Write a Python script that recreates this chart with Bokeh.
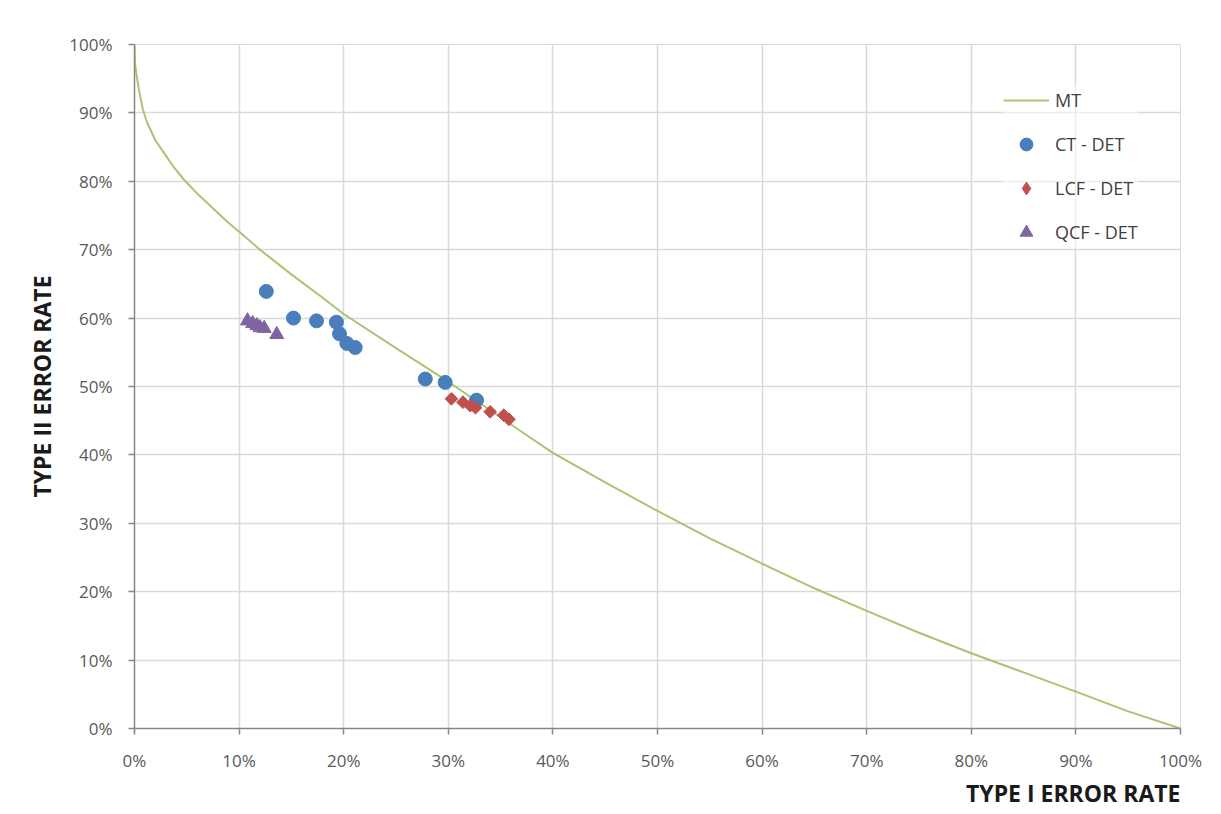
from bokeh.plotting import figure
from bokeh.models import Range1d, NumeralTickFormatter, FixedTicker, Legend, LegendItem, Title
from bokeh.embed import file_html
from bokeh.resources import INLINE

# MT curve (Type I error rate, Type II error rate)
mt_x = [0.0, 0.0005, 0.002, 0.0041, 0.008, 0.012, 0.02, 0.028, 0.037, 0.047, 0.06,
        0.076, 0.09, 0.101, 0.12, 0.149, 0.178, 0.20, 0.25, 0.30, 0.35, 0.369,
        0.40, 0.45, 0.50, 0.55, 0.60, 0.65, 0.70, 0.75, 0.80, 0.85, 0.90, 0.95, 1.0]
mt_y = [1.0, 0.972, 0.955, 0.935, 0.905, 0.886, 0.860, 0.842, 0.822, 0.803, 0.782,
        0.759, 0.739, 0.725, 0.700, 0.665, 0.632, 0.606, 0.556, 0.507, 0.455, 0.435,
        0.403, 0.360, 0.318, 0.278, 0.241, 0.205, 0.172, 0.140, 0.110, 0.082, 0.054, 0.025, 0.0]

# CT - DET
ct_x = [0.126, 0.152, 0.174, 0.193, 0.196, 0.203, 0.211, 0.278, 0.297, 0.327]
ct_y = [0.639, 0.600, 0.596, 0.594, 0.577, 0.563, 0.557, 0.511, 0.506, 0.480]

# LCF - DET
lcf_x = [0.303, 0.314, 0.321, 0.326, 0.340, 0.353, 0.358]
lcf_y = [0.482, 0.477, 0.472, 0.469, 0.463, 0.458, 0.452]

# QCF - DET
qcf_x = [0.108, 0.113, 0.117, 0.120, 0.124, 0.136]
qcf_y = [0.596, 0.592, 0.589, 0.586, 0.585, 0.576]

ticks = [i / 10 for i in range(11)]

p = figure(width=1221, height=814, output_backend="svg", toolbar_location=None,
           x_range=Range1d(0, 1), y_range=Range1d(0, 1),
           min_border_left=134, min_border_right=41, min_border_top=44, min_border_bottom=86)

p.background_fill_color = "white"
p.border_fill_color = "white"
p.outline_line_color = "#d9d9d9"

for ax in (p.xaxis[0], p.yaxis[0]):
    ax.ticker = FixedTicker(ticks=ticks)
    ax.formatter = NumeralTickFormatter(format="0%")
    ax.axis_line_color = "#868686"
    ax.axis_line_width = 1.5
    ax.major_tick_line_color = "#868686"
    ax.major_tick_line_width = 1.5
    ax.major_tick_in = 0
    ax.major_tick_out = 6
    ax.minor_tick_line_color = None
    ax.major_label_text_font = "Open Sans"
    ax.major_label_text_font_size = "17px"
    ax.major_label_text_color = "#595959"

p.yaxis[0].major_label_standoff = 16
p.xaxis[0].major_label_standoff = 14

p.yaxis[0].axis_label = "TYPE II ERROR RATE"
p.yaxis[0].axis_label_text_font = "Open Sans"
p.yaxis[0].axis_label_text_font_style = "bold"
p.yaxis[0].axis_label_text_font_size = "23px"
p.yaxis[0].axis_label_text_color = "#1a1a1a"
p.yaxis[0].axis_label_standoff = 8

xt = Title(text="TYPE I ERROR RATE", align="right", text_font="Open Sans",
           text_font_style="bold", text_font_size="23px", text_color="#1a1a1a",
           text_line_height=0.8, offset=0, standoff=0)
p.add_layout(xt, "below")

p.xgrid.grid_line_color = "#d9d9d9"
p.ygrid.grid_line_color = "#d9d9d9"
p.xgrid.grid_line_width = 1.5
p.ygrid.grid_line_width = 1.5
p.xgrid.ticker = FixedTicker(ticks=ticks)
p.ygrid.ticker = FixedTicker(ticks=ticks)

r_mt = p.line(mt_x, mt_y, line_color="#a9c472", line_width=2)
r_ct = p.scatter(ct_x, ct_y, marker="circle", size=14, fill_color="#4a7ebb", line_color="#4a7ebb")
# legend proxy for the diamond marker (legend ignores marker angle); hidden under the squares
r_lcf_leg = p.scatter(lcf_x, lcf_y, marker="diamond", size=6, fill_color="#c0504d", line_color="#c0504d")
r_lcf = p.scatter(lcf_x, lcf_y, marker="square", angle=0.785398, size=9,
                  fill_color="#c0504d", line_color="#c0504d")
r_qcf = p.scatter(qcf_x, qcf_y, marker="triangle", size=14, fill_color="#8064a2", line_color="#8064a2")

legend = Legend(items=[
    LegendItem(label="MT", renderers=[r_mt]),
    LegendItem(label="CT - DET", renderers=[r_ct]),
    LegendItem(label="LCF - DET", renderers=[r_lcf_leg]),
    LegendItem(label="QCF - DET", renderers=[r_qcf]),
], location=(869, 480))
legend.glyph_width = 46
legend.glyph_height = 32
legend.label_height = 32
legend.spacing = 12
legend.padding = 10
legend.margin = 0
legend.label_standoff = 6
legend.label_text_font = "Open Sans"
legend.label_text_font_size = "18px"
legend.label_text_color = "#404040"
legend.border_line_color = None
legend.background_fill_color = "white"
legend.background_fill_alpha = 0.5
p.add_layout(legend)

open("out.html", "w").write(file_html(p, INLINE))
